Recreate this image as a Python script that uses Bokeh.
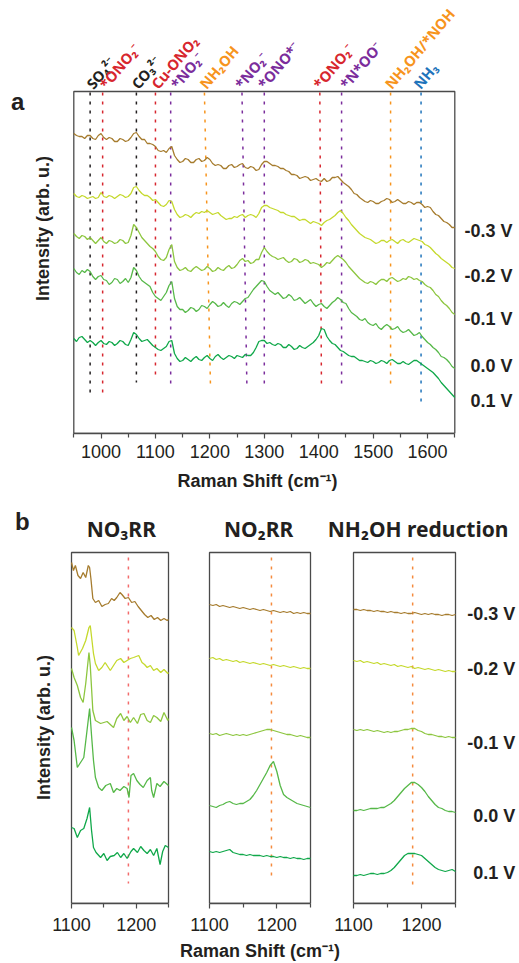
from bokeh.plotting import figure
from bokeh.models import Range1d, FixedTicker
from bokeh.core.properties import value
from bokeh.layouts import column, row
from bokeh.embed import file_html
from bokeh.resources import INLINE

# ---------------- data ----------------
potentials = ["-0.3 V", "-0.2 V", "-0.1 V", "0.0 V", "0.1 V"]
colors = ["#a67c2e", "#c5d92d", "#8dc63f", "#56b848", "#10a84a"]

# Panel a: in-situ Raman spectra (offset, arb. u.), 5 cm-1 steps
shift_a = list(range(950, 1651, 5))
spec_a_m03 = [300, 298, 297, 297, 295, 298, 298, 295, 294, 298,
              300, 296, 294, 296, 295, 292, 292, 295, 294, 292,
              293, 296, 300, 301, 297, 294, 294, 290, 290, 289,
              287, 283, 282, 283, 281, 285, 287, 278, 274, 271,
              272, 275, 274, 271, 271, 274, 275, 272, 273, 276,
              274, 270, 268, 269, 268, 265, 265, 268, 269, 266,
              267, 269, 270, 266, 265, 267, 266, 263, 264, 269,
              272, 272, 270, 268, 268, 267, 265, 265, 263, 262,
              259, 259, 258, 255, 256, 257, 256, 253, 254, 255,
              253, 252, 255, 252, 253, 256, 256, 257, 254, 251,
              249, 247, 244, 240, 239, 236, 234, 232, 231, 233,
              232, 230, 230, 232, 233, 235, 234, 231, 232, 234,
              232, 230, 230, 232, 231, 229, 231, 231, 229, 226,
              227, 226, 222, 219, 218, 215, 212, 211, 209, 206,
              206]
spec_a_m02 = [240, 237, 236, 238, 237, 235, 236, 237, 235, 236,
              241, 237, 236, 238, 237, 235, 237, 239, 238, 236,
              237, 240, 246, 247, 243, 240, 238, 238, 236, 233,
              234, 231, 228, 227, 229, 233, 232, 224, 219, 216,
              217, 219, 218, 216, 219, 221, 220, 222, 221, 223,
              221, 219, 220, 221, 218, 216, 214, 215, 215, 217,
              216, 218, 219, 216, 218, 219, 218, 216, 220, 226,
              228, 228, 226, 225, 224, 223, 221, 221, 219, 218,
              217, 217, 215, 213, 214, 214, 212, 210, 212, 211,
              210, 208, 211, 213, 214, 216, 218, 221, 223, 220,
              216, 213, 209, 206, 203, 200, 198, 196, 195, 194,
              192, 190, 191, 193, 193, 191, 193, 194, 192, 190,
              193, 194, 192, 191, 193, 195, 194, 193, 192, 189,
              188, 186, 183, 180, 178, 175, 173, 171, 169, 166,
              165]
spec_a_m01 = [200, 197, 195, 198, 197, 194, 196, 193, 190, 193,
              196, 192, 190, 193, 192, 190, 191, 194, 193, 190,
              191, 198, 209, 206, 201, 196, 193, 190, 187, 185,
              182, 177, 174, 173, 176, 184, 189, 172, 166, 163,
              164, 166, 163, 162, 165, 167, 165, 163, 164, 167,
              165, 162, 163, 166, 164, 163, 166, 168, 165, 166,
              169, 173, 175, 172, 173, 170, 171, 174, 174, 181,
              186, 182, 179, 177, 176, 174, 175, 176, 173, 171,
              172, 175, 174, 171, 172, 174, 173, 170, 171, 170,
              169, 166, 168, 171, 170, 173, 176, 178, 176, 174,
              171, 167, 164, 161, 158, 155, 153, 151, 150, 152,
              151, 149, 152, 154, 154, 152, 155, 156, 154, 152,
              153, 155, 154, 157, 156, 154, 155, 153, 152, 149,
              147, 146, 143, 139, 137, 133, 130, 128, 125, 121,
              119]
spec_a_p00 = [165, 161, 159, 163, 161, 164, 162, 157, 154, 157,
              158, 154, 153, 149, 151, 155, 154, 150, 152, 155,
              151, 156, 166, 163, 157, 153, 151, 149, 147, 141,
              137, 135, 133, 137, 141, 148, 152, 135, 127, 124,
              124, 121, 123, 126, 125, 122, 124, 128, 127, 125,
              129, 132, 130, 127, 128, 131, 128, 126, 130, 132,
              131, 129, 132, 135, 136, 140, 144, 147, 150, 153,
              152, 147, 143, 141, 139, 141, 138, 135, 136, 139,
              137, 133, 134, 136, 133, 130, 132, 134, 130, 127,
              129, 130, 127, 125, 128, 131, 133, 136, 134, 131,
              130, 125, 121, 119, 117, 114, 113, 115, 111, 109,
              108, 110, 106, 104, 107, 109, 107, 104, 105, 107,
              103, 101, 102, 104, 101, 98, 99, 101, 97, 94,
              91, 89, 86, 84, 81, 77, 76, 74, 71, 67,
              65]
spec_a_p01 = [95, 92, 96, 97, 94, 91, 93, 91, 88, 91,
              93, 90, 89, 92, 91, 88, 90, 93, 92, 89,
              88, 94, 101, 99, 95, 92, 93, 94, 91, 88,
              86, 84, 83, 85, 87, 92, 93, 80, 75, 72,
              73, 76, 74, 72, 75, 77, 74, 73, 76, 78,
              75, 73, 77, 79, 76, 74, 76, 78, 77, 75,
              78, 77, 76, 79, 78, 78, 81, 86, 92, 93,
              93, 90, 91, 89, 88, 90, 89, 86, 86, 89,
              87, 84, 85, 88, 86, 85, 87, 89, 91, 94,
              98, 105, 104, 97, 93, 90, 89, 86, 83, 82,
              80, 78, 77, 77, 75, 73, 73, 72, 71, 73,
              72, 70, 71, 73, 72, 70, 73, 74, 72, 70,
              70, 72, 70, 69, 71, 73, 73, 71, 69, 67,
              65, 63, 61, 58, 55, 51, 48, 45, 42, 39,
              36]
spectra_a = [spec_a_m03, spec_a_m02, spec_a_m01, spec_a_p00, spec_a_p01]

# band assignments (cm-1) shown as dotted guides in panel a
band_labels = ["SO\u2084\u00b2\u207b", "*ONO\u2082\u207b", "CO\u2083\u00b2\u207b", "Cu-ONO\u2082",
               "*NO\u2082\u207b", "NH\u2082OH", "*NO\u2082\u207b", "*ONO*\u207b",
               "*ONO\u2082\u207b", "*N*OO\u207b", "NH\u2082OH/*NOH", "NH\u2083"]
band_colors = ["#231f20", "#d7262e", "#231f20", "#d7262e",
               "#7b2d9c", "#f7941d", "#7b2d9c", "#7b2d9c",
               "#d7262e", "#7b2d9c", "#f7941d", "#1f74bb"]
band_top = [980, 1003, 1065, 1100, 1128, 1190, 1259, 1300, 1402, 1442, 1532, 1588]
band_bottom = [980, 1003, 1065, 1100, 1128, 1201, 1268, 1300, 1405, 1442, 1532, 1588]
band_end = [40, 40, 51, 59, 46, 50, 48, 46, 46, 48, 46, 26]
band_label_x = [978, 1002, 1061, 1097, 1133, 1186, 1251, 1293, 1395, 1444, 1526, 1579]

# Panel b, NO3RR
b1_x_m03 = [1100, 1103, 1106, 1110, 1114, 1118, 1122, 1126, 1128, 1130, 1133, 1137, 1142, 1147, 1152, 1157,
            1162, 1166, 1170, 1175, 1178, 1183, 1188, 1193, 1198, 1203, 1208, 1213, 1218, 1223, 1228, 1233,
            1238, 1243, 1248, 1250]
b1_y_m03 = [341, 333, 338, 328, 325, 331, 326, 338, 336, 325, 305, 301, 303, 297, 299, 300,
            305, 303, 306, 311, 309, 305, 306, 301, 302, 297, 293, 289, 286, 288, 284, 286,
            283, 285, 283, 284]
b1_x_m02 = [1100, 1104, 1109, 1111, 1117, 1122, 1127, 1129, 1134, 1137, 1142, 1147, 1152, 1160, 1165, 1170,
            1176, 1181, 1186, 1191, 1196, 1204, 1209, 1213, 1217, 1222, 1227, 1232, 1238, 1243, 1249, 1250]
b1_y_m02 = [276, 273, 256, 248, 255, 263, 276, 278, 250, 240, 233, 236, 241, 233, 238, 243,
            245, 241, 243, 245, 246, 248, 241, 239, 236, 238, 233, 235, 231, 234, 230, 231]
b1_x_m01 = [1100, 1104, 1109, 1114, 1118, 1122, 1127, 1129, 1133, 1137, 1145, 1155, 1165, 1170, 1176,
            1181, 1186, 1191, 1196, 1202, 1207, 1212, 1217, 1222, 1227, 1232, 1238, 1243, 1249, 1250]
b1_y_m01 = [235, 226, 218, 206, 201, 220, 251, 238, 193, 183, 180, 182, 176, 185, 190,
            183, 187, 181, 186, 180, 189, 190, 183, 181, 188, 186, 182, 191, 183, 185]
b1_x_p00 = [1100, 1104, 1109, 1114, 1119, 1124, 1128, 1131, 1134, 1137, 1142, 1147, 1153, 1160, 1165, 1170,
            1175, 1181, 1186, 1189, 1192, 1196, 1201, 1206, 1211, 1217, 1222, 1224, 1227, 1232, 1237, 1243, 1250]
b1_y_p00 = [176, 163, 136, 141, 146, 173, 195, 168, 143, 126, 116, 113, 118, 120, 111, 115,
            113, 117, 115, 106, 128, 130, 123, 119, 116, 123, 126, 113, 106, 120, 117, 122, 118]
b1_x_p01 = [1100, 1104, 1109, 1114, 1119, 1124, 1128, 1131, 1134, 1138, 1145, 1150, 1155, 1160, 1166, 1171,
            1176, 1181, 1186, 1192, 1196, 1202, 1207, 1212, 1217, 1222, 1227, 1232, 1237, 1241, 1245, 1250]
b1_y_p01 = [76, 75, 66, 73, 75, 85, 96, 73, 56, 51, 46, 50, 43, 47, 48, 51,
            46, 50, 45, 52, 55, 51, 57, 53, 50, 54, 48, 55, 39, 52, 58, 56]
b1_x = [b1_x_m03, b1_x_m02, b1_x_m01, b1_x_p00, b1_x_p01]
b1_y = [b1_y_m03, b1_y_m02, b1_y_m01, b1_y_p00, b1_y_p01]

# Panel b, NO2RR and NH2OH reduction (5 cm-1 steps)
shift_b = list(range(1100, 1251, 5))
b2_m03 = [299, 298, 299, 297, 298, 297, 296, 297, 296, 295, 296, 295, 294, 295, 294, 293,
          294, 293, 292, 293, 292, 291, 292, 291, 292, 290, 291, 290, 291, 290, 290]
b2_m02 = [245, 246, 244, 245, 243, 244, 243, 242, 243, 241, 242, 241, 240, 241, 240, 239,
          240, 239, 238, 239, 238, 237, 238, 237, 236, 237, 236, 235, 236, 235, 235]
b2_m01 = [170, 169, 170, 168, 169, 170, 169, 168, 169, 168, 169, 168, 169, 170, 171, 172,
          173, 174, 174, 173, 172, 171, 170, 169, 169, 168, 167, 168, 167, 166, 166]
b2_p00 = [98, 97, 96, 98, 99, 101, 102, 100, 99, 100, 100, 102, 104, 108, 113, 119,
          125, 131, 138, 142, 132, 118, 109, 106, 104, 102, 100, 99, 98, 97, 96]
b2_p01 = [52, 51, 52, 51, 52, 53, 54, 51, 50, 49, 49, 48, 49, 48, 48, 48,
          47, 48, 47, 47, 46, 47, 46, 46, 45, 46, 45, 45, 44, 45, 45]
b3_m03 = [294, 294, 293, 294, 293, 293, 292, 293, 292, 292, 291, 292, 291, 291, 290, 291,
          290, 290, 291, 290, 289, 290, 289, 290, 289, 289, 288, 289, 289, 288, 289]
b3_m02 = [243, 242, 243, 241, 242, 241, 240, 241, 239, 240, 239, 238, 239, 237, 238, 237,
          236, 237, 235, 236, 235, 234, 235, 234, 233, 234, 233, 232, 233, 232, 232]
b3_m01 = [174, 173, 174, 173, 174, 173, 172, 173, 172, 171, 172, 171, 172, 172, 173, 174,
          174, 175, 175, 173, 172, 170, 169, 169, 168, 167, 167, 166, 167, 166, 166]
b3_p00 = [93, 93, 94, 93, 94, 95, 95, 95, 96, 96, 98, 100, 103, 107, 111, 115,
          118, 121, 121, 119, 116, 112, 107, 103, 99, 96, 95, 93, 92, 92, 91]
b3_p01 = [28, 28, 29, 28, 29, 30, 30, 29, 30, 30, 31, 33, 36, 40, 44, 48,
          50, 50, 50, 49, 48, 45, 42, 39, 36, 34, 33, 32, 33, 34, 32]
b2_y = [b2_m03, b2_m02, b2_m01, b2_p00, b2_p01]
b3_y = [b3_m03, b3_m02, b3_m01, b3_p00, b3_p01]

panel_b_titles = ["NO\u2083RR", "NO\u2082RR", "NH\u2082OH reduction"]
panel_b_guides = [1188, 1192, 1187]
panel_b_guide_colors = ["#f36b6b", "#f58a3c", "#f58a3c"]
panel_b_guide_end = [20, 23, 16]

# ---------------- styling / layout constants ----------------
FRAME = "#4a4a4a"
TXT = "#231f20"
TICK_FONT = "Liberation Sans"
TITLE_FONT = "Noto Sans"
W = 519


def make_fig(width, height, x0, x1, left_px, right_px, y_top, bottom_px, ticks, minor):
    """Frame fills the canvas above the axis; the axes box is drawn as a quad."""
    scale = (right_px - left_px) / (x1 - x0)
    xr = Range1d(x0 - left_px / scale, x0 + (width - left_px) / scale)
    plot_h = height - bottom_px
    p = figure(width=width, height=height, x_range=xr, y_range=Range1d(0, plot_h),
               output_backend="svg", toolbar_location=None, y_axis_location=None, title=None,
               min_border_left=0, min_border_right=0, min_border_top=0, min_border_bottom=bottom_px)
    p.grid.visible = False
    p.outline_line_color = None
    p.background_fill_color = "white"
    p.border_fill_color = "white"
    p.quad(left=[x0], right=[x1], bottom=[0], top=[y_top], fill_color=None,
           line_color=FRAME, line_width=1.3)
    ax = p.xaxis[0]
    ax.bounds = (x0, x1)
    ax.ticker = FixedTicker(ticks=ticks, minor_ticks=minor)
    ax.axis_line_color = FRAME
    ax.axis_line_width = 1.3
    ax.major_tick_line_color = FRAME
    ax.minor_tick_line_color = FRAME
    ax.major_tick_line_width = 1.2
    ax.minor_tick_line_width = 1.2
    ax.major_tick_out = 5
    ax.major_tick_in = 0
    ax.minor_tick_out = 4
    ax.minor_tick_in = 0
    ax.major_label_text_font = TICK_FONT
    ax.major_label_text_font_size = "18px"
    ax.major_label_text_color = TXT
    ax.major_label_standoff = 6
    return p


def txt(p, x, y, text, size, color=TXT, font=TICK_FONT, style="bold", angle=0.0,
        align="center", baseline="middle"):
    p.text(x=x if isinstance(x, list) else [x], y=y if isinstance(y, list) else [y],
           text=text if isinstance(text, list) else [text],
           text_font=value(font), text_font_size=value(size), text_font_style=value(style),
           text_color=color, angle=angle, text_align=value(align), text_baseline=value(baseline))


# ---------------- panel a ----------------
pa = make_fig(W, 500, 950, 1650, 73.3, 454.3, 342, 67,
              list(range(1000, 1601, 100)), list(range(950, 1651, 100)))
pa.xaxis[0].axis_label = "Raman Shift  (cm\u207b\u00b9)"
pa.xaxis[0].axis_label_text_font = TICK_FONT
pa.xaxis[0].axis_label_text_font_size = "18px"
pa.xaxis[0].axis_label_text_font_style = "bold"
pa.xaxis[0].axis_label_text_color = TXT
pa.xaxis[0].axis_label_standoff = 10

pa.segment(x0=band_top, y0=[341] * len(band_top), x1=band_bottom, y1=band_end,
           line_color=band_colors, line_width=1.5, line_dash="3 6")
for ys, c in zip(spectra_a, colors):
    pa.line(shift_a, ys, line_color=c, line_width=1.3)

txt(pa, band_label_x, [347] * len(band_label_x), band_labels, "14.5px",
    color=band_colors, font=TITLE_FONT, angle=0.87, align="left", baseline="alphabetic")

label_y_a = [203, 158, 115, 68, 33]
txt(pa, [1756] * 5, label_y_a, potentials, "18px", align="right")

txt(pa, 847, 332, "a", "24px")
txt(pa, 894, 205, "Intensity (arb. u.)", "18px", angle=1.5708)

# ---------------- panel b ----------------
pb1 = make_fig(188, 440, 1100, 1250, 71, 168, 351, 37, [1100, 1200], [1150, 1250])
pb2 = make_fig(138, 440, 1100, 1250, 21, 122, 351, 37, [1100, 1200], [1150, 1250])
pb3 = make_fig(193, 440, 1100, 1250, 27, 129, 351, 37, [1100, 1200], [1150, 1250])
for p in (pb1, pb2, pb3):
    p.xaxis[0].major_label_standoff = 9

for p, g, gc, ge in zip((pb1, pb2, pb3), panel_b_guides, panel_b_guide_colors, panel_b_guide_end):
    p.segment(x0=[g], y0=[346], x1=[g], y1=[ge], line_color=gc, line_width=1.5, line_dash="3 6")

for xs, ys, c in zip(b1_x, b1_y, colors):
    pb1.line(xs, ys, line_color=c, line_width=1.3)
for ys, c in zip(b2_y, colors):
    pb2.line(shift_b, ys, line_color=c, line_width=1.3)
for ys, c in zip(b3_y, colors):
    pb3.line(shift_b, ys, line_color=c, line_width=1.3)

txt(pb1, 1177, 375, panel_b_titles[0], "21px", font=TITLE_FONT)
txt(pb2, 1173, 375, panel_b_titles[1], "21px", font=TITLE_FONT)
txt(pb3, 1195, 375, panel_b_titles[2], "21px", font=TITLE_FONT)
txt(pb1, 1024, 382, "b", "24px")
txt(pb1, 1057, 176, "Intensity (arb. u.)", "18px", angle=1.5708)

label_y_b = [290, 235, 161, 88, 31]
txt(pb3, [1338] * 5, label_y_b, potentials, "18px", align="right")

# strip with the shared x-axis title of panel b
strip = figure(width=W, height=23, x_range=Range1d(0, W), y_range=Range1d(0, 23),
               output_backend="svg", toolbar_location=None, x_axis_location=None,
               y_axis_location=None, title=None, min_border=0)
strip.grid.visible = False
strip.outline_line_color = None
txt(strip, 262, 13, "Raman Shift  (cm\u207b\u00b9)", "18px")

layout = column(pa, row(pb1, pb2, pb3), strip)
open("out.html", "w").write(file_html(layout, INLINE))
